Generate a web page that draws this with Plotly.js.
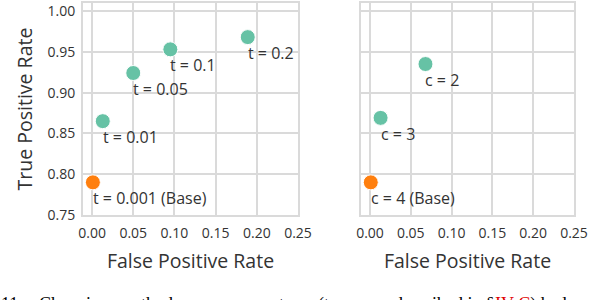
<!DOCTYPE html>
<html>
<head>
<meta charset="utf-8">
<script src="https://cdn.plot.ly/plotly-3.0.1.min.js"></script>
<style>html,body{margin:0;padding:0;background:#fff;}#chart{width:614px;height:300px;}</style>
</head>
<body>
<div id="chart"></div>
<script>
// Left panel: threshold t
const tLabels = ["t = 0.01", "t = 0.05", "t = 0.1", "t = 0.2"];
const tFPR = [0.013, 0.050, 0.095, 0.189];
const tTPR = [0.865, 0.924, 0.953, 0.968];
const tBaseLabel = "t = 0.001 (Base)";
const tBaseFPR = [0.001];
const tBaseTPR = [0.790];

// Right panel: parameter c
const cLabels = ["c = 3", "c = 2"];
const cFPR = [0.013, 0.068];
const cTPR = [0.869, 0.935];
const cBaseLabel = "c = 4 (Base)";
const cBaseFPR = [0.001];
const cBaseTPR = [0.790];

const xTicks = [0, 0.05, 0.10, 0.15, 0.20, 0.25];
const yTicks = [0.75, 0.80, 0.85, 0.90, 0.95, 1.00];

// caption words (clipped at the bottom edge in the reference)
const captionWords = ["11:", "Changing", "method", "parameters", "(t or c, as", "described in §<span style='color:#e00000'>IV-C</span>) had"];
const captionX = [-1, 37, 117, 224, 316, 392];

const GREEN = "#66c2a5";
const ORANGE = "#ff7f0e";
const GRID = "#dadada";
const TXT = "#333333";
const FONT = "Open Sans, DejaVu Sans, sans-serif";

function pts(x, y, color, xa, ya) {
  return {x: x, y: y, xaxis: xa, yaxis: ya, type: "scatter", mode: "markers",
    marker: {color: color, size: 15, line: {color: "#ffffff", width: 1}},
    hoverinfo: "skip", showlegend: false, cliponaxis: false};
}

const data = [
  pts(tFPR, tTPR, GREEN, "x", "y"),
  pts(tBaseFPR, tBaseTPR, ORANGE, "x", "y"),
  pts(cFPR, cTPR, GREEN, "x2", "y2"),
  pts(cBaseFPR, cBaseTPR, ORANGE, "x2", "y2")
];

const annotations = [];
function addLabels(xs, ys, labels, xref, yref) {
  for (let i = 0; i < xs.length; i++) {
    annotations.push({x: xs[i], y: ys[i], xref: xref, yref: yref, text: labels[i],
      showarrow: false, xanchor: "left", yanchor: "middle", xshift: -2, yshift: -16,
      font: {family: FONT, size: 16, color: TXT}});
  }
}
addLabels(tFPR, tTPR, tLabels, "x", "y");
addLabels(tBaseFPR, tBaseTPR, [tBaseLabel], "x", "y");
addLabels(cFPR, cTPR, cLabels, "x2", "y2");
addLabels(cBaseFPR, cBaseTPR, [cBaseLabel], "x2", "y2");

for (let i = 0; i < captionWords.length; i++) {
  annotations.push({xref: "paper", yref: "paper", x: captionX[i] / 614, y: -0.362,
    xanchor: "left", yanchor: "top", showarrow: false, text: captionWords[i],
    font: {family: "Liberation Serif, Times New Roman, serif", size: 18, color: "#000"}});
}

function xaxis(domain, anchor) {
  return {domain: domain, anchor: anchor, range: [-0.011, 0.25], tickvals: xTicks, tickformat: ".2f",
    showgrid: true, gridcolor: GRID, gridwidth: 2, zeroline: false,
    showline: true, linecolor: GRID, linewidth: 2, mirror: true,
    ticks: "outside", ticklen: 4, tickcolor: "rgba(0,0,0,0)",
    tickfont: {family: FONT, size: 14, color: TXT},
    title: {text: "False Positive Rate", font: {family: FONT, size: 19.5, color: TXT}, standoff: 14},
    fixedrange: true};
}
function yaxis(anchor, labels) {
  return {domain: [0, 1], anchor: anchor, range: [0.75, 1.0098], tickvals: yTicks, tickformat: ".2f",
    showgrid: true, gridcolor: GRID, gridwidth: 2, zeroline: false,
    showline: true, linecolor: GRID, linewidth: 2, mirror: true,
    ticks: labels ? "outside" : "", ticklen: 3, tickcolor: "rgba(0,0,0,0)",
    showticklabels: labels,
    tickfont: {family: FONT, size: 14, color: TXT},
    title: labels ? {text: "True Positive Rate", font: {family: FONT, size: 19.5, color: TXT}, standoff: 10} : {text: ""},
    fixedrange: true};
}

const layout = {
  width: 614, height: 300,
  margin: {l: 0, r: 0, t: 3, b: 85, pad: 0},
  paper_bgcolor: "#ffffff", plot_bgcolor: "#ffffff",
  showlegend: false,
  xaxis: xaxis([83/614, 298/614], "y"),
  yaxis: yaxis("x", true),
  xaxis2: xaxis([361/614, 574/614], "y2"),
  yaxis2: yaxis("x2", false),
  annotations: annotations
};

Plotly.newPlot("chart", data, layout, {staticPlot: true, displayModeBar: false});
</script>
</body>
</html>
